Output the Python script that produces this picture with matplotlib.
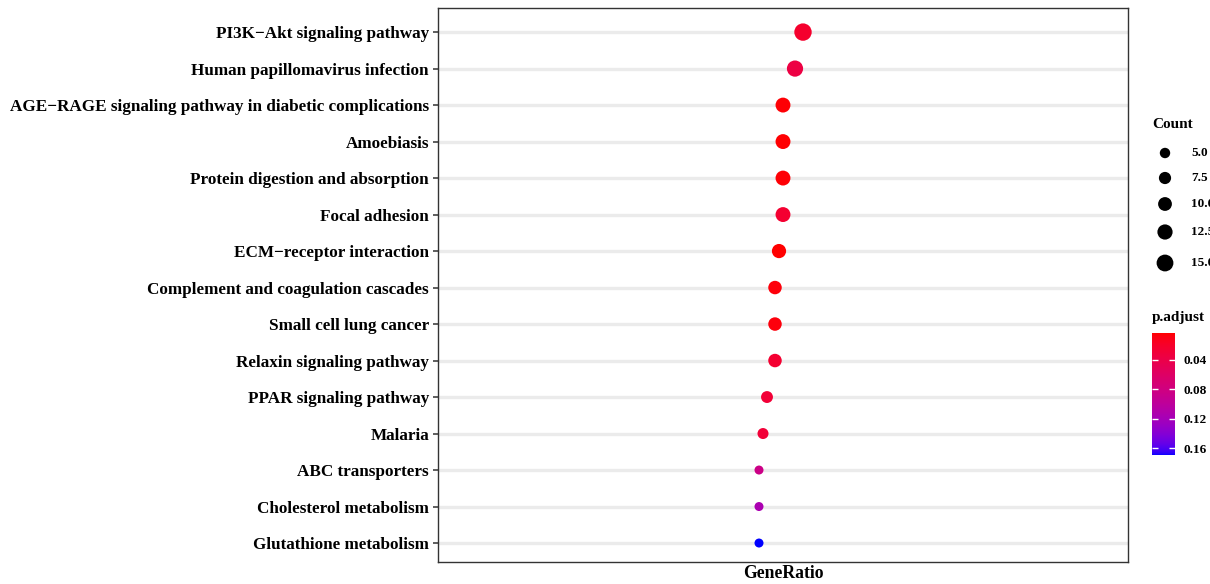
import numpy as np
import matplotlib
matplotlib.use("Agg")
import matplotlib.pyplot as plt
from matplotlib.colors import LinearSegmentedColormap, Normalize

# ---------------- data ----------------
terms = [
    "PI3K\u2212Akt signaling pathway",
    "Human papillomavirus infection",
    "AGE\u2212RAGE signaling pathway in diabetic complications",
    "Amoebiasis",
    "Protein digestion and absorption",
    "Focal adhesion",
    "ECM\u2212receptor interaction",
    "Complement and coagulation cascades",
    "Small cell lung cancer",
    "Relaxin signaling pathway",
    "PPAR signaling pathway",
    "Malaria",
    "ABC transporters",
    "Cholesterol metabolism",
    "Glutathione metabolism",
]
gene_ratio = [0.072, 0.068, 0.062, 0.062, 0.062, 0.062, 0.060, 0.058, 0.058, 0.058,
              0.054, 0.052, 0.050, 0.050, 0.050]
counts = [15, 13, 11, 11, 11, 11, 10, 9, 9, 9, 7, 6, 4, 4, 4]
p_adjust = [0.022, 0.036, 0.0045, 0.0040, 0.0045, 0.024, 0.0032, 0.006, 0.007, 0.024,
            0.028, 0.029, 0.085, 0.115, 0.1695]
size_breaks = [5.0, 7.5, 10.0, 12.5, 15.0]
color_ticks = [0.04, 0.08, 0.12, 0.16]

# ---------------- colour scale (Lab interpolation red -> blue, like ggplot) ----------------
def _srgb_to_lab(rgb):
    rgb = np.asarray(rgb, float)
    lin = np.where(rgb <= 0.04045, rgb / 12.92, ((rgb + 0.055) / 1.055) ** 2.4)
    M = np.array([[0.4124, 0.3576, 0.1805], [0.2126, 0.7152, 0.0722], [0.0193, 0.1192, 0.9505]])
    xyz = M @ lin / np.array([0.95047, 1.0, 1.08883])
    f = np.where(xyz > 0.008856, np.cbrt(xyz), 7.787 * xyz + 16 / 116)
    return np.array([116 * f[1] - 16, 500 * (f[0] - f[1]), 200 * (f[1] - f[2])])

def _lab_to_srgb(lab):
    L, a, b = lab
    fy_ = (L + 16) / 116
    fx_ = fy_ + a / 500
    fz_ = fy_ - b / 200
    f = np.array([fx_, fy_, fz_])
    xyz = np.where(f ** 3 > 0.008856, f ** 3, (f - 16 / 116) / 7.787) * np.array([0.95047, 1.0, 1.08883])
    Minv = np.array([[3.2406, -1.5372, -0.4986], [-0.9689, 1.8758, 0.0415], [0.0557, -0.2040, 1.0570]])
    lin = np.clip(Minv @ xyz, 0, 1)
    rgb = np.where(lin <= 0.0031308, 12.92 * lin, 1.055 * lin ** (1 / 2.4) - 0.055)
    return np.clip(rgb, 0, 1)

lab_lo = _srgb_to_lab([1, 0, 0])
lab_hi = _srgb_to_lab([0, 0, 1])
cols = [_lab_to_srgb(lab_lo + t * (lab_hi - lab_lo)) for t in np.linspace(0, 1, 256)]
cmap = LinearSegmentedColormap.from_list("red_blue_lab", cols)
norm = Normalize(vmin=min(p_adjust), vmax=max(p_adjust))

# ---------------- size scale (area) ----------------
DPI = 100
d_min_px, d_max_px = 9.0, 17.4
cmin, cmax = min(counts), max(counts)
def size_pts2(c):
    c = np.asarray(c, float)
    area_px = d_min_px ** 2 + (c - cmin) / (cmax - cmin) * (d_max_px ** 2 - d_min_px ** 2)
    return area_px * (72.0 / DPI) ** 2

# ---------------- figure ----------------
W, H = 1210, 584
fig = plt.figure(figsize=(W / DPI, H / DPI), dpi=DPI)
plt.rcParams['font.family'] = ['Liberation Serif', 'DejaVu Serif']

def fx(px):
    return px / W
def fy(py):
    return 1 - py / H

ax_l, ax_r, ax_t, ax_b = 438, 1128, 8, 562
ax = fig.add_axes([fx(ax_l), fy(ax_b), fx(ax_r) - fx(ax_l), fy(ax_t) - fy(ax_b)])

ypos = np.arange(len(terms))
for y in ypos:
    ax.axhline(y, color="#EBEBEB", lw=2.4, zorder=0)
ax.scatter(gene_ratio, ypos, s=size_pts2(counts), c=p_adjust, cmap=cmap, norm=norm,
           linewidths=0, zorder=3)

ax.set_xlim(-0.1105, 0.2345)
ax.set_ylim(len(terms) - 1 + 0.52, -0.66)
ax.set_yticks(ypos)
ax.set_yticklabels(terms, fontsize=12.3, fontweight="bold", color="black")
ax.set_xticks([])
ax.tick_params(axis="y", length=3.5, width=1.1, color="#333333", pad=3)
ax.set_xlabel("GeneRatio", fontsize=12.7, fontweight="bold", labelpad=2)
for sp in ax.spines.values():
    sp.set_color("#333333")
    sp.set_linewidth(1.0)

# ---------------- size legend ----------------
fig.text(fx(1152), fy(125), "Count", fontsize=11, fontweight="bold", va="center", ha="left")
leg_y = [153, 178, 204, 232, 263]
lax = fig.add_axes([fx(1140), fy(285), fx(1210) - fx(1140), fy(140) - fy(285)])
lax.set_xlim(1140, 1210)
lax.set_ylim(285, 140)
lax.axis("off")
leg_sizes = [(d ** 2) * (72.0 / DPI) ** 2 for d in [10.4, 12.2, 13.8, 15.2, 16.8]]
lax.scatter([1165] * len(size_breaks), leg_y, s=leg_sizes, color="black", linewidths=0)
for v, yy in zip(size_breaks, leg_y):
    fig.text(fx(1191), fy(yy), f"{v:.1f}", fontsize=9.5, fontweight="bold", va="center", ha="left")

# ---------------- colour bar ----------------
fig.text(fx(1152), fy(318), "p.adjust", fontsize=11, fontweight="bold", va="center", ha="left")
cax = fig.add_axes([fx(1152), fy(455), fx(1175) - fx(1152), fy(333) - fy(455)])
sm = matplotlib.cm.ScalarMappable(norm=norm, cmap=cmap)
cb = fig.colorbar(sm, cax=cax)
cb.outline.set_visible(False)
cb.set_ticks(color_ticks)
cb.set_ticklabels([f"{t:.2f}" for t in color_ticks])
cax.invert_yaxis()
cax.tick_params(axis="y", direction="in", length=4.5, width=1, colors="white",
                left=True, right=True, labelleft=False, labelright=True, pad=6)
for lab in cax.get_yticklabels():
    lab.set_color("black")
    lab.set_fontsize(9.5)
    lab.set_fontweight("bold")

fig.savefig("out.png", dpi=DPI)
